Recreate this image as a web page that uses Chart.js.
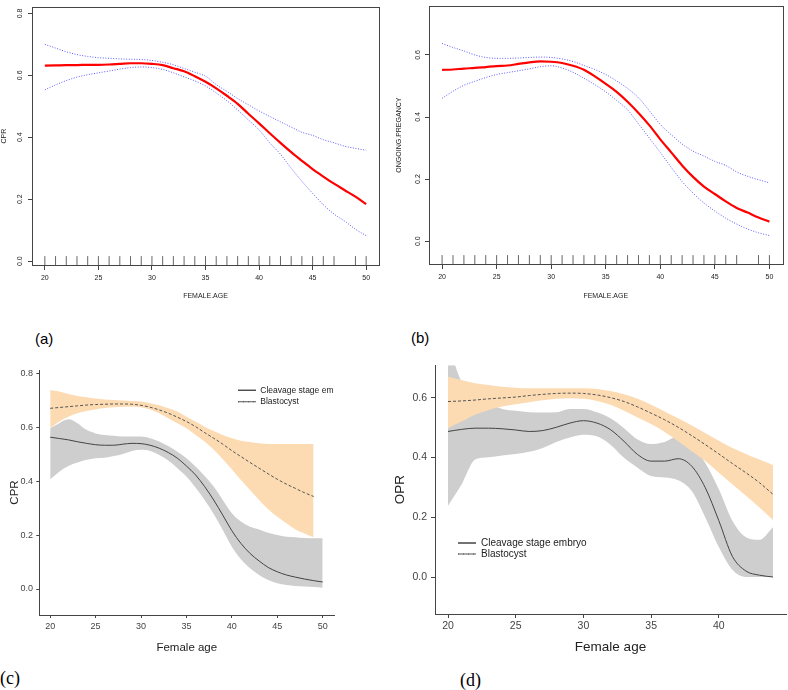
<!DOCTYPE html>
<html>
<head>
<meta charset="utf-8">
<script src="https://cdn.jsdelivr.net/npm/chart.js@4.4.0/dist/chart.umd.min.js"></script>
<style>
body{margin:0;background:#fff;width:788px;height:690px;position:relative;overflow:hidden}
canvas{position:absolute}
.lab{position:absolute;line-height:1;color:#000;white-space:nowrap}
.sans{font-family:'Liberation Sans',Arial,sans-serif;font-size:15px}
.serif{font-family:'Liberation Serif','Times New Roman',serif;font-size:18px}
</style>
</head>
<body>
<canvas id="pa" width="394" height="305" style="left:0;top:0"></canvas>
<canvas id="pb" width="394" height="305" style="left:394px;top:0"></canvas>
<canvas id="pc" width="394" height="305" style="left:0;top:355px"></canvas>
<canvas id="pd" width="394" height="305" style="left:394px;top:355px"></canvas>
<div class="lab sans" style="left:35px;top:331px">(a)</div>
<div class="lab sans" style="left:411px;top:330px">(b)</div>
<div class="lab serif" style="left:0;top:669px">(c)</div>
<div class="lab serif" style="left:460px;top:671px">(d)</div>
<script>
// ---- panels (a) and (b): age 20..50
const agesAB = [20,21,22,23,24,25,26,27,28,29,30,31,32,33,34,35,36,37,38,39,40,41,42,43,44,45,46,47,48,49,50];
const rugAges = [20,21,22,23,24,25,26,27,28,29,30,31,32,33,34,35,36,37,38,39,40,41,42,43,44,45,46,47,49,50];
const tickAgesAB = [20,25,30,35,40,45,50];

const cprFit   = [.631,.632,.633,.633,.634,.634,.635,.637,.639,.639,.637,.633,.623,.613,.597,.579,.558,.534,.508,.476,.445,.413,.382,.352,.324,.297,.273,.250,.229,.208,.184];
const cprUpper = [.700,.688,.676,.667,.661,.657,.655,.653,.652,.651,.648,.642,.634,.622,.610,.597,.570,.548,.525,.505,.485,.467,.450,.433,.416,.406,.392,.382,.371,.364,.358];
const cprLower = [.553,.569,.583,.594,.602,.608,.614,.620,.625,.627,.625,.619,.608,.595,.582,.566,.543,.518,.488,.456,.424,.382,.345,.300,.258,.219,.182,.152,.129,.103,.082];
const cprTicks = [0,0.2,0.4,0.6,0.8];

const opFit   = [.552,.553,.556,.558,.561,.564,.566,.571,.576,.579,.578,.574,.565,.552,.531,.507,.481,.449,.413,.373,.328,.286,.244,.207,.176,.152,.128,.107,.092,.076,.063];
const opUpper = [.637,.624,.613,.600,.592,.589,.589,.590,.592,.593,.592,.587,.579,.566,.553,.537,.516,.492,.462,.420,.376,.343,.313,.290,.274,.257,.244,.223,.209,.198,.188];
const opLower = [.460,.483,.502,.515,.527,.537,.543,.549,.555,.562,.565,.558,.544,.525,.504,.481,.453,.423,.378,.332,.286,.238,.192,.155,.123,.097,.074,.055,.039,.027,.018];
const opTicks = [0,0.2,0.4,0.6];

// ---- panel (c): cleavage 20..50, blastocyst 20..49
const agesC = [20,21,22,23,24,25,26,27,28,29,30,31,32,33,34,35,36,37,38,39,40,41,42,43,44,45,46,47,48,49,50];
const agesCBlast = [20,21,22,23,24,25,26,27,28,29,30,31,32,33,34,35,36,37,38,39,40,41,42,43,44,45,46,47,48,49];
const tickAgesC = [20,25,30,35,40,45,50];
const cCleavFit = [.563,.558,.553,.546,.540,.535,.533,.533,.537,.540,.539,.533,.522,.506,.485,.456,.423,.380,.330,.274,.216,.169,.132,.104,.080,.064,.052,.044,.037,.031,.026];
const cCleavUp  = [.596,.615,.629,.615,.590,.577,.571,.568,.565,.565,.565,.559,.547,.530,.509,.485,.454,.419,.380,.330,.281,.250,.231,.221,.209,.200,.194,.192,.189,.188,.188];
const cCleavLo  = [.407,.435,.456,.469,.479,.485,.487,.493,.501,.512,.516,.512,.497,.476,.448,.417,.376,.330,.278,.219,.157,.110,.077,.052,.033,.021,.015,.011,.009,.007,.005];
const cBlastFit = [.670,.673,.676,.679,.682,.684,.685,.686,.686,.685,.681,.674,.664,.652,.637,.621,.602,.580,.559,.537,.513,.491,.469,.448,.427,.407,.389,.373,.357,.343];
const cBlastUp  = [.738,.732,.723,.716,.711,.706,.703,.701,.699,.697,.695,.689,.681,.670,.658,.639,.621,.602,.586,.571,.559,.550,.545,.540,.538,.538,.538,.538,.538,.538];
const cBlastLo  = [.596,.621,.639,.652,.660,.666,.671,.674,.676,.676,.674,.666,.652,.633,.615,.596,.571,.547,.516,.481,.444,.404,.367,.330,.296,.268,.244,.221,.206,.192];
const cprTicksC = [0,0.2,0.4,0.6,0.8];
const namesC = ['Cleavage stage em','Blastocyst'];

// ---- panel (d): 20..44
const agesD = [20,21,22,23,24,25,26,27,28,29,30,31,32,33,34,35,36,37,38,39,40,41,42,43,44];
const tickAgesD = [20,25,30,35,40];
const dCleavFit = [.487,.494,.498,.498,.496,.492,.487,.490,.501,.515,.523,.515,.493,.454,.410,.388,.388,.396,.371,.299,.189,.070,.021,.007,.001];
const dCleavUp  = [.780,.653,.603,.581,.562,.556,.551,.550,.551,.562,.562,.551,.531,.498,.460,.445,.452,.471,.441,.382,.294,.189,.134,.125,.167];
const dCleavLo  = [.239,.310,.393,.401,.407,.412,.419,.432,.452,.467,.476,.471,.443,.399,.366,.338,.333,.324,.288,.200,.101,.025,.001,.001,.001];
const dBlastFit = [.587,.589,.592,.596,.599,.602,.607,.611,.614,.615,.614,.609,.600,.587,.569,.548,.526,.501,.473,.443,.412,.380,.349,.316,.277];
const dBlastUp  = [.670,.659,.648,.642,.636,.633,.631,.631,.631,.631,.631,.629,.622,.611,.596,.576,.554,.531,.507,.482,.456,.432,.412,.393,.375];
const dBlastLo  = [.498,.520,.543,.559,.570,.578,.585,.591,.596,.598,.596,.589,.576,.556,.534,.512,.485,.454,.421,.388,.349,.311,.272,.233,.191];
const oprTicksD = [0,0.2,0.4,0.6];
const namesD = ['Cleavage stage embryo','Blastocyst'];

const FONT = "'Liberation Sans', Arial, sans-serif";
const pts = (xs, ys) => xs.map((x, i) => ({x: x, y: ys[i]}));
const setTicks = vals => s => { s.ticks = vals.map(v => ({value: v})); };

// box around the plot region, R style
const framePlugin = {
  id: 'frame',
  afterDraw(chart) {
    const a = chart.chartArea, c = chart.ctx;
    c.save();
    c.strokeStyle = '#444';
    c.lineWidth = 1;
    c.strokeRect(Math.round(a.left) + 0.5, Math.round(a.top) + 0.5, Math.round(a.right - a.left), Math.round(a.bottom - a.top));
    c.restore();
  }
};

// put the chartArea legend where it sits in the figure
function legendAt(x, y) {
  return {
    id: 'legendAt',
    afterLayout(chart) {
      const lg = chart.legend;
      if (!lg) return;
      const w = lg.width, h = lg.height;
      lg.left = x; lg.top = y; lg.right = x + w; lg.bottom = y + h;
    }
  };
}

function rPanel(id, c) {
  const txt = '#222';
  const fnt = {family: FONT, size: 7};
  new Chart(document.getElementById(id), {
    type: 'line',
    data: {
      datasets: [
        {data: pts(agesAB, c.fit), borderColor: '#ff0000', borderWidth: 2.2},
        {data: pts(agesAB, c.upper), borderColor: '#5a5aff', borderWidth: 1, borderDash: [1, 1.6]},
        {data: pts(agesAB, c.lower), borderColor: '#5a5aff', borderWidth: 1, borderDash: [1, 1.6]},
        {type: 'scatter', data: rugAges.map(a => ({x: a, y: c.yMin + (c.yMax - c.yMin) * 0.017})),
         pointStyle: 'line', rotation: 90, pointRadius: 4.5, borderColor: '#666', borderWidth: 1}
      ]
    },
    options: {
      responsive: false, animation: false, events: [],
      layout: {padding: c.pad},
      elements: {point: {radius: 0}, line: {cubicInterpolationMode: 'monotone', fill: false}},
      plugins: {legend: {display: false}, tooltip: {enabled: false}},
      scales: {
        x: {
          type: 'linear', min: 18.8, max: 51.2,
          afterBuildTicks: setTicks(tickAgesAB),
          afterFit: s => { s.height = c.xh; },
          ticks: {font: fnt, color: txt, padding: 3.5, maxRotation: 0},
          grid: {drawOnChartArea: false, tickLength: 5, tickColor: '#444'},
          border: {display: true, color: '#444'},
          title: {display: true, text: 'FEMALE.AGE', font: fnt, color: txt, padding: {top: 0, bottom: 4.8}}
        },
        y: {
          type: 'linear', min: c.yMin, max: c.yMax,
          afterBuildTicks: setTicks(c.ticks),
          afterFit: s => { s.width = c.yw; },
          ticks: {font: fnt, color: txt, padding: c.tp, minRotation: 90, maxRotation: 90, crossAlign: 'center',
                  callback: v => v.toFixed(1)},
          grid: {drawOnChartArea: false, tickLength: 4, tickColor: '#444'},
          border: {display: true, color: '#444'},
          title: {display: true, text: c.yTitle, font: fnt, color: txt, padding: {top: c.titlePad, bottom: 0}}
        }
      }
    },
    plugins: [framePlugin]
  });
}

function ggPanel(id, c) {
  const axc = '#444';
  const tf = {family: FONT, size: c.tick};
  const band = (xs, lo, up, col) => [
    {data: pts(xs, lo), borderColor: 'rgba(0,0,0,0)', borderWidth: 0, fill: false},
    {data: pts(xs, up), borderColor: 'rgba(0,0,0,0)', borderWidth: 0, backgroundColor: col, fill: '-1'}
  ];
  new Chart(document.getElementById(id), {
    type: 'line',
    data: {
      datasets: [
        {label: c.names[0], data: pts(c.agesCl, c.clFit), borderColor: '#444', borderWidth: 1, backgroundColor: 'rgba(0,0,0,0)'},
        {label: c.names[1], data: pts(c.agesBl, c.blFit), borderColor: '#555', borderWidth: 1, borderDash: [3, 2], backgroundColor: 'rgba(0,0,0,0)'},
        ...band(c.agesBl, c.blLo, c.blUp, 'rgb(252,219,178)'),
        ...band(c.agesCl, c.clLo, c.clUp, 'rgb(206,206,206)')
      ]
    },
    options: {
      responsive: false, animation: false, events: [],
      layout: {padding: c.pad},
      elements: {point: {radius: 0}, line: {cubicInterpolationMode: 'monotone', fill: false}},
      plugins: {
        tooltip: {enabled: false},
        legend: {
          display: true, position: 'chartArea', align: 'start',
          // flat zero-height box: stroked as a line so the dash shows
          labels: {boxWidth: 18, boxHeight: 0,
                   font: {family: FONT, size: c.legFont}, color: '#222', padding: c.legPad,
                   filter: it => it.datasetIndex < 2}
        }
      },
      scales: {
        x: {
          type: 'linear', min: c.xMin, max: c.xMax,
          afterBuildTicks: setTicks(c.xTicks),
          afterFit: s => { s.height = c.xh; },
          ticks: {font: tf, color: '#444', padding: c.xtp, maxRotation: 0},
          grid: {drawOnChartArea: false, tickLength: c.tl, tickColor: axc},
          border: {display: true, color: axc},
          title: {display: true, text: 'Female age', font: {family: FONT, size: c.title}, color: '#222',
                  padding: {top: 0, bottom: 5}}
        },
        y: {
          type: 'linear', min: c.yMin, max: c.yMax,
          afterBuildTicks: setTicks(c.yTicks),
          afterFit: s => { s.width = c.yw; },
          ticks: {font: tf, color: '#444', padding: c.ytp, callback: v => v.toFixed(1)},
          grid: {drawOnChartArea: false, tickLength: c.tl, tickColor: axc},
          border: {display: true, color: axc},
          title: {display: true, text: c.yTitle, font: {family: FONT, size: c.title},
                  color: '#222', padding: {top: c.yTitlePad, bottom: 0}}
        }
      }
    },
    plugins: [legendAt(c.legX, c.legY)]
  });
}

rPanel('pa', {fit: cprFit, upper: cprUpper, lower: cprLower, ticks: cprTicks, yTitle: 'CPR',
  yMin: -0.0126, yMax: 0.82, pad: {left: 0, top: 1, right: 15, bottom: 0}, yw: 32, xh: 40, tp: 3, titlePad: 0});
rPanel('pb', {fit: opFit, upper: opUpper, lower: opLower, ticks: opTicks, yTitle: 'ONGOING.PREGANCY',
  yMin: -0.0736, yMax: 0.757, pad: {left: 0, top: 1, right: 4, bottom: 0}, yw: 35, xh: 41, tp: 2, titlePad: 1});

ggPanel('pc', {agesCl: agesC, agesBl: agesCBlast, clFit: cCleavFit, clUp: cCleavUp, clLo: cCleavLo,
  blFit: cBlastFit, blUp: cBlastUp, blLo: cBlastLo, names: namesC, xTicks: tickAgesC, yTicks: cprTicksC,
  yTitle: 'CPR', xMin: 18.8, xMax: 51.28, yMin: -0.0964, yMax: 0.812,
  pad: {left: 0, top: 15, right: 59.7, bottom: 0}, yw: 39.3, xh: 45, tl: 3, xtp: 3.3, ytp: 3.3,
  tick: 9, title: 11.5, yTitlePad: 8, legFont: 8.5, legPad: 3, legX: 235, legY: 28});

ggPanel('pd', {agesCl: agesD, agesBl: agesD, clFit: dCleavFit, clUp: dCleavUp, clLo: dCleavLo,
  blFit: dBlastFit, blUp: dBlastUp, blLo: dBlastLo, names: namesD, xTicks: tickAgesD, yTicks: oprTicksD,
  yTitle: 'OPR', xMin: 19.04, xMax: 44.96, yMin: -0.1226, yMax: 0.708,
  pad: {left: 0, top: 8.3, right: 2, bottom: 0}, yw: 41, xh: 46, tl: 4, xtp: 1.7, ytp: 4,
  tick: 10.5, title: 13.5, yTitlePad: -1.5, legFont: 10, legPad: 1, legX: 63, legY: 182});
</script>
</body>
</html>
